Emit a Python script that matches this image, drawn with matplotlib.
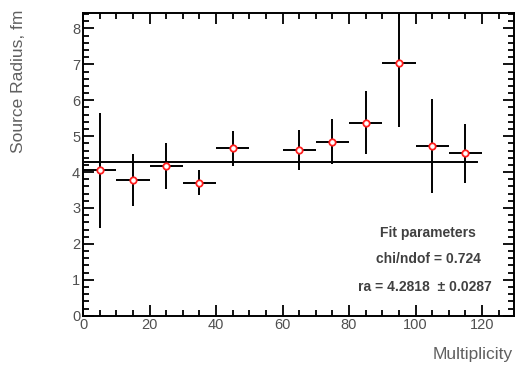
import numpy as np
import matplotlib
matplotlib.use("Agg")
import matplotlib.pyplot as plt
from matplotlib.ticker import MultipleLocator

plt.rcParams['font.family'] = ['Liberation Sans', 'DejaVu Sans']

multiplicity = [5, 15, 25, 35, 45, 65, 75, 85, 95, 105, 115]
x_err = [5, 5, 5, 5, 5, 5, 5, 5, 5, 5, 5]
radius = [4.05, 3.78, 4.17, 3.70, 4.66, 4.62, 4.85, 5.38, 7.05, 4.73, 4.52]
radius_err = [1.60, 0.72, 0.65, 0.35, 0.49, 0.56, 0.63, 0.87, 1.80, 1.30, 0.83]
fit_value = 4.2818
fit_range = [0.5, 118.5]
x_ticks = [0, 20, 40, 60, 80, 100, 120]
y_ticks = [0, 1, 2, 3, 4, 5, 6, 7, 8]

fig = plt.figure(figsize=(5.16, 3.65), dpi=100)
ax = fig.add_axes([83/516, 49.3/365, (514-83)/516, (315.7-13)/365])

ax.errorbar(multiplicity, radius, xerr=x_err, yerr=radius_err, fmt='o',
            color='black', ecolor='black', elinewidth=1.4, capsize=0,
            markersize=4.6, markerfacecolor='white', markeredgecolor='#ff2020',
            markeredgewidth=1.3, zorder=3)
ax.plot(fit_range, [fit_value, fit_value], color='black', lw=1.4, zorder=2)

ax.set_xlim(0, 129.6)
ax.set_ylim(0, 8.43)
ax.set_xticks(x_ticks)
ax.set_yticks(y_ticks)
ax.xaxis.set_minor_locator(MultipleLocator(5))
ax.yaxis.set_minor_locator(MultipleLocator(0.2))
ax.tick_params(which='both', direction='in', top=True, right=True, width=1.3,
               labelsize=10.5, labelcolor='#505050')
ax.tick_params(which='major', length=8, pad=2)
ax.tick_params(which='minor', length=4.5)
for s in ax.spines.values():
    s.set_linewidth(1.4)

fig.text(0.035, 0.973, 'Source Radius, fm', rotation=90, ha='center', va='top',
         fontsize=12.5, color='#606060')
fig.text(0.994, 1-355/365, 'Multiplicity', ha='right', va='center',
         fontsize=12.5, color='#606060')

def ftxt(px, py, s, ha='center'):
    fig.text(px/516, 1-py/365, s, ha=ha, va='center', fontsize=10,
             fontweight='bold', color='#404040')
ftxt(428, 233, 'Fit parameters')
ftxt(428, 259, 'chi/ndof = 0.724')
ftxt(492, 287, 'ra = 4.2818  \u00b1 0.0287', ha='right')

fig.savefig('out.png', dpi=100)
